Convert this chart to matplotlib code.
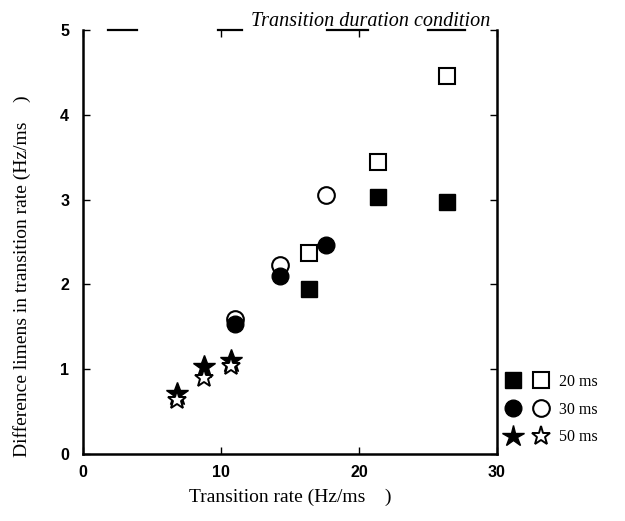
import matplotlib
matplotlib.use("Agg")
import matplotlib.pyplot as plt
from matplotlib.legend_handler import HandlerTuple

# transition rate (Hz/ms) and difference limens (Hz/ms), per duration condition
x20 = [16.4, 21.4, 26.4]
y20_filled = [1.95, 3.03, 2.97]
y20_open = [2.37, 3.44, 4.46]

x30 = [11.0, 14.3, 17.6]
y30_filled = [1.53, 2.10, 2.46]
y30_open = [1.59, 2.23, 3.05]

x50 = [6.8, 8.8, 10.7]
y50_filled = [0.71, 1.02, 1.10]
y50_open = [0.64, 0.90, 1.04]

labels = ["20 ms", "30 ms", "50 ms"]

fig = plt.figure(figsize=(6.25, 5.21), dpi=100)
ax = fig.add_axes([0.133, 0.129, 0.662, 0.813])

ms = 12
ax.plot(x30, y30_open, "o", ms=ms, mfc="white", mec="black", mew=1.5, zorder=2)
ax.plot(x30, y30_filled, "o", ms=ms, mfc="black", mec="black", zorder=3)
ax.plot(x20, y20_open, "s", ms=ms, mfc="white", mec="black", mew=1.5, zorder=2)
ax.plot(x20, y20_filled, "s", ms=ms, mfc="black", mec="black", zorder=3)
ax.plot(x50, y50_filled, "*", ms=17, mfc="black", mec="black", zorder=2)
ax.plot(x50, y50_open, "*", ms=14, mfc="white", mec="black", mew=1.4, zorder=3)

ax.set_xlim(0, 30)
ax.set_ylim(0, 5)
ax.set_xticks([0, 10, 20, 30])
ax.set_yticks([0, 1, 2, 3, 4, 5])
ax.tick_params(direction="in", length=5, width=1, top=True, right=True,
               labelsize=11.5)
ax.tick_params(axis="x", pad=8)
ax.tick_params(axis="y", pad=10)
for lab in ax.get_xticklabels() + ax.get_yticklabels():
    lab.set_fontweight("bold")
    lab.set_family("Liberation Sans")

for s in ["left", "right", "bottom"]:
    ax.spines[s].set_linewidth(1.8)
ax.spines["top"].set_visible(False)
# broken top border as in the scanned figure
for a, b in [(0.060, 0.130), (0.326, 0.384), (0.589, 0.688), (0.833, 0.923)]:
    ax.axhline(5, xmin=a, xmax=b, color="black", lw=1.6, clip_on=False)

ax.set_xlabel("Transition rate (Hz/ms    )", family="Liberation Serif",
              fontsize=14, labelpad=6)
ax.set_ylabel("Difference limens in transition rate (Hz/ms    )",
              family="Liberation Serif", fontsize=14)
ax.yaxis.set_label_coords(-0.125, 0.42)
title = ax.set_title("Transition duration condition", family="Liberation Serif",
                     style="italic", fontsize=14.5, loc="right", pad=3)
title.set_x(0.985)

h20 = (ax.plot([], [], "s", ms=12, mfc="black", mec="black")[0],
       ax.plot([], [], "s", ms=12, mfc="white", mec="black", mew=1.5)[0])
h30 = (ax.plot([], [], "o", ms=12, mfc="black", mec="black")[0],
       ax.plot([], [], "o", ms=12, mfc="white", mec="black", mew=1.5)[0])
h50 = (ax.plot([], [], "*", ms=16, mfc="black", mec="black")[0],
       ax.plot([], [], "*", ms=14, mfc="white", mec="black", mew=1.4)[0])
leg = ax.legend([h20, h30, h50], labels,
                handler_map={tuple: HandlerTuple(ndivide=None, pad=0.9)},
                loc="upper left", bbox_to_anchor=(1.015, 0.197), frameon=False,
                borderaxespad=0, borderpad=0.2,
                handlelength=2.6, handletextpad=0.7, labelspacing=0.75,
                prop={"family": "Liberation Serif", "size": 11.5})

fig.savefig("out.png", dpi=100)
